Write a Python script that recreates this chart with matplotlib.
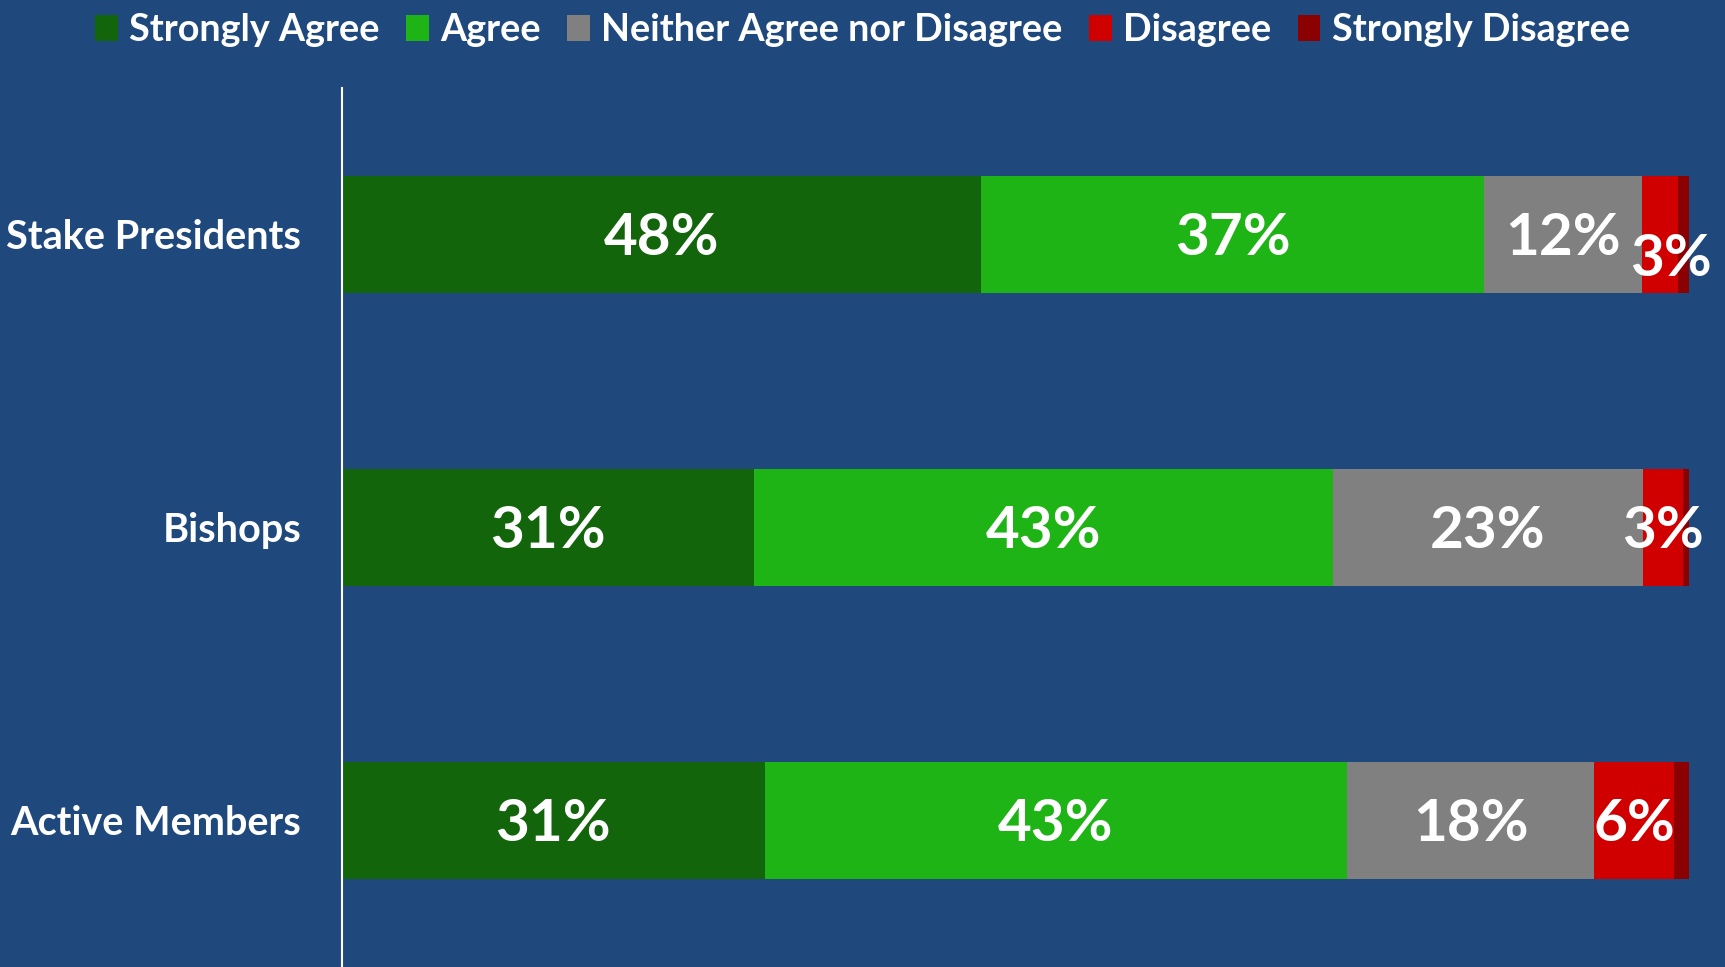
import matplotlib
matplotlib.use("Agg")
import matplotlib.pyplot as plt
import numpy as np

groups = ["Stake Presidents", "Bishops", "Active Members"]
responses = ["Strongly Agree", "Agree", "Neither Agree nor Disagree", "Disagree", "Strongly Disagree"]
strongly_agree = [47.5, 30.6, 31.4]
agree = [37.3, 43.0, 43.2]
neither = [11.7, 23.0, 18.4]
disagree = [2.7, 3.0, 5.9]
strongly_disagree = [0.8, 0.4, 1.1]
colors = ["#12650B", "#1FB416", "#808080", "#D10000", "#8B0000"]

bg = "#1F497D"
plt.rcParams["font.family"] = ["Lato", "DejaVu Sans"]
plt.rcParams["font.weight"] = "bold"

fig = plt.figure(figsize=(17.25, 9.67), dpi=100, facecolor=bg)
ax = fig.add_axes([0.198, 0.0, 0.781, 0.909], facecolor=bg)

series = [strongly_agree, agree, neither, disagree, strongly_disagree]
y = np.arange(len(groups))
left = np.zeros(len(groups))
for name, vals, c in zip(responses, series, colors):
    vals = np.array(vals)
    ax.barh(y, vals, left=left, height=0.4, color=c, label=name)
    if name != "Strongly Disagree":
        for i, v in enumerate(vals):
            cx = left[i] + v / 2
            cy = y[i] + 0.015
            if name == "Disagree" and i == 0:
                cx += 0.8
                cy += 0.07
            ax.text(cx, cy, f"{round(v):.0f}%", ha="center", va="center",
                    color="white", fontsize=42, fontweight="bold", clip_on=False)
    left += vals

ax.set_xlim(0, 100)
ax.set_ylim(len(groups) - 0.5, -0.5)
ax.set_yticks(y)
ax.set_yticklabels(groups, color="white", fontsize=28.5, fontweight="bold")
ax.tick_params(axis="y", length=0, pad=29)
ax.set_xticks([])
for s in ["top", "right", "bottom"]:
    ax.spines[s].set_visible(False)
ax.spines["left"].set_color("white")
ax.spines["left"].set_linewidth(1.5)

leg = fig.legend(loc="upper center", bbox_to_anchor=(0.5, 1.01), ncol=5, frameon=False,
                 fontsize=27.2, handlelength=0.6, handleheight=0.7, handletextpad=0.3,
                 columnspacing=0.7, borderaxespad=0.2)
for t in leg.get_texts():
    t.set_color("white")
    t.set_fontweight("bold")

fig.savefig("out.png", dpi=100, facecolor=bg)
